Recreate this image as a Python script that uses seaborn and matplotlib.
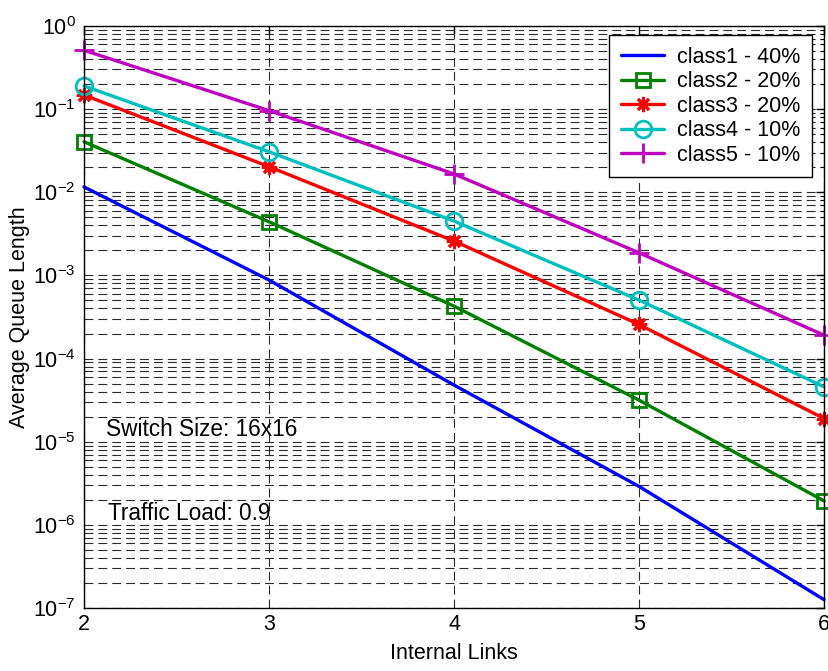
import matplotlib
matplotlib.use("Agg")
import matplotlib.pyplot as plt
import matplotlib.ticker as mticker
import seaborn as sns
import pandas as pd

# ---- data ----
links = [2, 3, 4, 5, 6]
class1 = [1.16e-2, 8.8e-4, 4.8e-5, 2.9e-6, 1.26e-7]
class2 = [4.05e-2, 4.42e-3, 4.27e-4, 3.16e-5, 1.94e-6]
class3 = [1.48e-1, 2.03e-2, 2.59e-3, 2.57e-4, 1.9e-5]
class4 = [1.9e-1, 3.07e-2, 4.5e-3, 5.05e-4, 4.57e-5]
class5 = [5.1e-1, 9.6e-2, 1.66e-2, 1.87e-3, 1.91e-4]
labels = ["class1 - 40%", "class2 - 20%", "class3 - 20%", "class4 - 10%", "class5 - 10%"]
series = [class1, class2, class3, class4, class5]

colors = ["#0000ff", "#008000", "#ff0000", "#00bfbf", "#bf00bf"]
markers = [None, "s", (8, 2, 0), "o", "+"]
msizes = [0, 10, 11, 12, 14]

sns.set_style("white")
plt.rcParams["font.family"] = ["Liberation Sans", "DejaVu Sans"]
plt.rcParams["mathtext.fontset"] = "custom"
plt.rcParams["mathtext.rm"] = "Liberation Sans"
plt.rcParams["mathtext.it"] = "Liberation Sans"
plt.rcParams["text.color"] = "black"
plt.rcParams["axes.labelcolor"] = "black"
plt.rcParams["xtick.color"] = "black"
plt.rcParams["ytick.color"] = "black"

FS = 15.5

fig = plt.figure(figsize=(8.29, 6.71), dpi=100)
ax = fig.add_axes([0.1013, 0.0939, 0.8927, 0.8674])

for lab, vals, c, m, ms in zip(labels, series, colors, markers, msizes):
    df = pd.DataFrame({"links": links, "val": vals})
    kw = dict(marker=m, markersize=ms, markerfacecolor="none",
              markeredgecolor=c, markeredgewidth=2.0) if m is not None else {}
    sns.lineplot(data=df, x="links", y="val", color=c, linewidth=2.4,
                 label=lab, ax=ax, clip_on=False, **kw)

ax.set_yscale("log")
ax.set_xlim(2, 6)
ax.set_ylim(1e-7, 1e0)
ax.set_xticks(links)
ax.xaxis.set_major_formatter(mticker.FormatStrFormatter("%d"))
ax.yaxis.set_major_locator(mticker.LogLocator(base=10, numticks=20))
ax.yaxis.set_minor_locator(mticker.LogLocator(base=10, subs=range(2, 10), numticks=100))
ax.yaxis.set_minor_formatter(mticker.NullFormatter())
ax.xaxis.offsetText.set_visible(False)
ax.yaxis.offsetText.set_visible(False)

dash = (0, (8, 4.5))
ax.grid(True, which="major", axis="both", linestyle=dash, color="#2a2a2a", linewidth=0.8)
ax.grid(True, which="minor", axis="y", linestyle=dash, color="#2a2a2a", linewidth=0.8)
ax.set_axisbelow(True)

ax.tick_params(axis="both", which="both", direction="in", top=True, right=True,
               labelsize=FS, colors="black")
ax.tick_params(axis="x", pad=4)
ax.tick_params(axis="y", pad=6)
ax.tick_params(which="major", length=6, width=1)
ax.tick_params(which="minor", length=3, width=0.8)
for s in ax.spines.values():
    s.set_visible(True)
    s.set_color("black")
    s.set_linewidth(1.0)

ax.set_xlabel("Internal Links", fontsize=FS, labelpad=6)
ax.set_ylabel("Average Queue Length", fontsize=FS, labelpad=2)

ax.text(2.12, 1.41e-5, "Switch Size: 16x16", fontsize=16.3, va="center", ha="left")
ax.text(2.13, 1.38e-6, "Traffic Load: 0.9", fontsize=16.3, va="center", ha="left")

leg = ax.legend(loc="upper right", bbox_to_anchor=(0.984, 0.9845), borderaxespad=0,
                fontsize=FS, frameon=True, fancybox=False, edgecolor="black",
                framealpha=1, handlelength=2.0, borderpad=0.55, labelspacing=0.16,
                handletextpad=0.6)
leg.get_frame().set_linewidth(1.0)
for t in leg.get_texts():
    t.set_color("black")

fig.savefig("out.png", dpi=100)
